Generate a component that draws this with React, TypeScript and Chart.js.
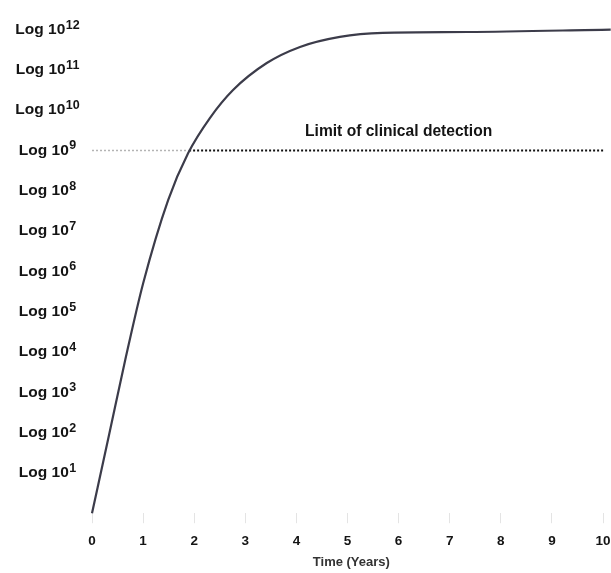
import React, { useEffect, useRef } from "react";
import { Chart, registerables } from "chart.js";

Chart.register(...registerables);

// ---- data ----
const timeYears = [0, 0.33, 0.65, 1.0, 1.49, 1.88, 2.31, 2.76, 3.42, 4.07, 4.85, 5.69, 7.34, 10.15];
const logCells = [0, 1.92, 3.8, 5.7, 7.77, 8.93, 9.81, 10.5, 11.17, 11.57, 11.82, 11.92, 11.94, 12.0];

const xTickValues = [0, 1, 2, 3, 4, 5, 6, 7, 8, 9, 10];
const yTickExponents = [1, 2, 3, 4, 5, 6, 7, 8, 9, 10, 11, 12];

const detectionLimit = 9;
const detectionStartX = 0;
const detectionCrossX = 1.9;
const detectionEndX = 10.04;
const detectionLabel = "Limit of clinical detection";
const detectionLabelX = 6.0;
const detectionLabelY = 9.47;

const xTitle = "Time (Years)";
const yLabelPrefix = "Log 10";

const FONT = "'Liberation Sans', Arial, Helvetica, sans-serif";

const labelsPlugin = {
  id: "customLabels",
  afterDraw(chart: any) {
    const ctx = chart.ctx as CanvasRenderingContext2D;
    const ys = chart.scales.y;
    const xs = chart.scales.x;
    ctx.save();
    const mainFont = `bold 15.5px ${FONT}`;
    const supFont = `bold 12.5px ${FONT}`;
    const centerX = 47.5;
    for (const e of yTickExponents) {
      const y = ys.getPixelForValue(e);
      ctx.font = mainFont;
      const w1 = ctx.measureText(yLabelPrefix).width;
      ctx.font = supFont;
      const w2 = ctx.measureText(String(e)).width;
      const total = w1 + 0.5 + w2;
      const x0 = centerX - total / 2;
      ctx.fillStyle = "#141414";
      ctx.textAlign = "left";
      ctx.font = mainFont;
      ctx.textBaseline = "middle";
      ctx.fillText(yLabelPrefix, x0, y);
      ctx.font = supFont;
      ctx.textBaseline = "alphabetic";
      ctx.fillText(String(e), x0 + w1 + 0.5, y - 1);
    }
    ctx.font = `bold 15.6px ${FONT}`;
    ctx.textAlign = "center";
    ctx.textBaseline = "middle";
    ctx.fillStyle = "#141414";
    ctx.fillText(detectionLabel, xs.getPixelForValue(detectionLabelX), ys.getPixelForValue(detectionLabelY));
    ctx.restore();
  },
};

export default function App() {
  const ref = useRef<HTMLCanvasElement | null>(null);

  useEffect(() => {
    if (!ref.current) return;
    const chart = new Chart(ref.current, {
      type: "line",
      data: {
        datasets: [
          {
            label: "growth",
            data: timeYears.map((t, i) => ({ x: t, y: logCells[i] })),
            borderColor: "#3c3c4a",
            borderWidth: 2.2,
            pointRadius: 0,
            cubicInterpolationMode: "monotone",
            clip: false as any,
          },
          {
            label: "limit-left",
            data: [
              { x: detectionStartX, y: detectionLimit },
              { x: detectionCrossX, y: detectionLimit },
            ],
            borderColor: "#b4b4b4",
            borderWidth: 1.5,
            borderDash: [2, 2],
            pointRadius: 0,
            clip: false as any,
          },
          {
            label: "limit-right",
            data: [
              { x: detectionCrossX, y: detectionLimit },
              { x: detectionEndX, y: detectionLimit },
            ],
            borderColor: "#111111",
            borderWidth: 2,
            borderDash: [2, 2],
            pointRadius: 0,
            clip: false as any,
          },
        ],
      },
      options: {
        animation: false,
        responsive: false,
        devicePixelRatio: 1,
        layout: { padding: { left: 92, right: 0.3, top: 17.5, bottom: 0 } },
        plugins: { legend: { display: false }, tooltip: { enabled: false } },
        scales: {
          x: {
            type: "linear",
            min: 0,
            max: 10.15,
            afterBuildTicks: (s: any) => {
              s.ticks = xTickValues.map((v) => ({ value: v }));
            },
            afterFit: (s: any) => {
              s.height = 59.8;
              s.paddingLeft = 0;
              s.paddingRight = 0;
            },
            grid: { display: true, drawOnChartArea: false, tickLength: 10, color: "#e4e4e4" },
            border: { display: false },
            ticks: {
              autoSkip: false,
              maxRotation: 0,
              padding: 9.7,
              color: "#141414",
              font: { family: FONT, size: 13.5, weight: "bold" },
            },
            title: {
              display: true,
              text: xTitle,
              color: "#333333",
              font: { family: FONT, size: 13, weight: "bold" },
              padding: { top: 0, bottom: 3.2 },
            },
          },
          y: {
            type: "linear",
            min: 0,
            max: 12.3,
            display: false,
          },
        },
      },
      plugins: [labelsPlugin],
    } as any);
    return () => chart.destroy();
  }, []);

  return (
    <div style={{ position: "absolute", left: 0, top: 0, width: 611, height: 573, background: "#ffffff" }}>
      <canvas ref={ref} width={611} height={573} style={{ display: "block" }} />
    </div>
  );
}
